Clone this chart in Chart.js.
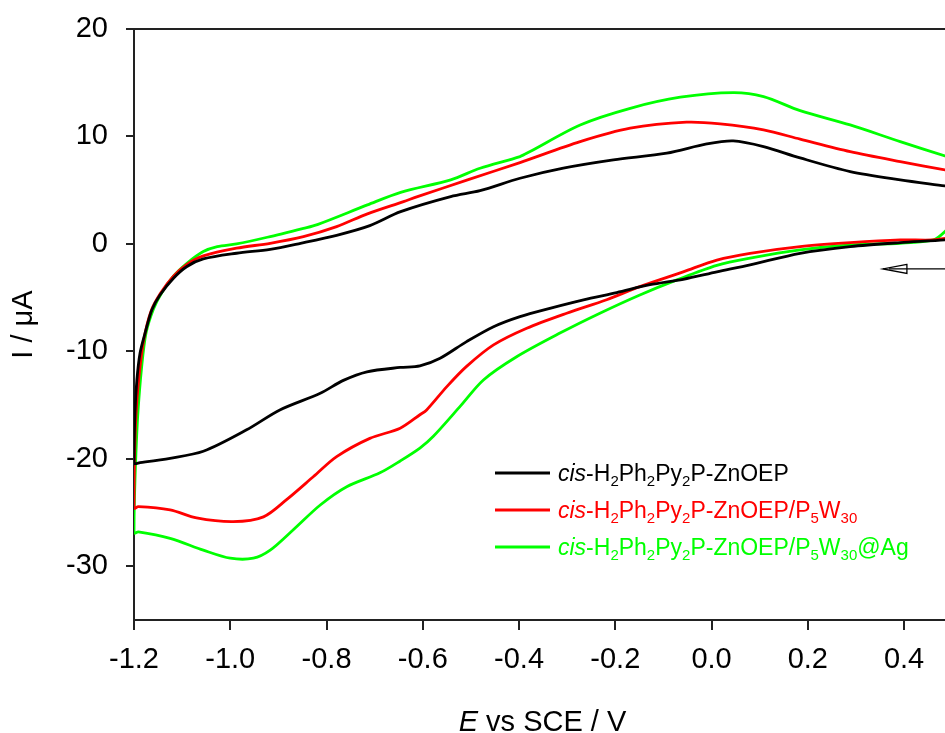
<!DOCTYPE html>
<html><head><meta charset="utf-8">
<script src="https://cdn.jsdelivr.net/npm/chart.js@4/dist/chart.umd.min.js"></script>
<style>html,body{margin:0;padding:0;background:#fff;}#wrap{width:945px;height:733px;position:relative;overflow:hidden}</style>
</head><body><div id="wrap"><canvas id="c" width="945" height="733"></canvas></div>
<script>
// ---- data ----
const xTicks = [-1.2, -1.0, -0.8, -0.6, -0.4, -0.2, 0.0, 0.2, 0.4];
const yTicks = [-30, -20, -10, 0, 10, 20];

const blackE = [0.50, 0.485, 0.392, 0.288, 0.184, 0.08, 0.011, -0.059, -0.128, -0.197, -0.266, -0.336, -0.398, -0.453, -0.509, -0.564, -0.606, -0.647, -0.716, -0.765, -0.813, -0.897, -0.966, -1.056, -1.125, -1.1875, -1.2,
  -1.198, -1.194, -1.1875, -1.177, -1.163, -1.146, -1.118, -1.09, -1.056, -0.987, -0.917, -0.854, -0.779, -0.71, -0.646, -0.542, -0.481, -0.398, -0.308, -0.204, -0.093, -0.01, 0.045, 0.108, 0.184, 0.288, 0.392, 0.485, 0.50];
const blackI = [0.5, 0.37, 0.12, -0.25, -0.87, -1.95, -2.6, -3.29, -3.8, -4.53, -5.2, -5.99, -6.76, -7.7, -9.09, -10.64, -11.35, -11.5, -11.9, -12.7, -13.9, -15.45, -17.3, -19.3, -19.95, -20.35, -20.4,
  -15.76, -12.66, -10.17, -8.31, -6.14, -4.75, -3.19, -2.1, -1.4, -0.87, -0.5, 0.06, 0.8, 1.7, 3.0, 4.4, 4.95, 6.11, 7.05, 7.82, 8.44, 9.3, 9.59, 9.06, 8.0, 6.73, 5.96, 5.4, 5.3];

const redE = [0.50, 0.46, 0.392, 0.288, 0.184, 0.08, 0.011, -0.059, -0.149, -0.218, -0.301, -0.384, -0.453, -0.509, -0.55, -0.592, -0.606, -0.647, -0.71, -0.779, -0.827, -0.883, -0.931, -0.994, -1.07, -1.125, -1.191, -1.2,
  -1.199, -1.196, -1.19, -1.18, -1.165, -1.145, -1.118, -1.09, -1.056, -0.987, -0.917, -0.848, -0.779, -0.715, -0.64, -0.611, -0.507, -0.398, -0.273, -0.169, -0.052, 0.018, 0.108, 0.184, 0.288, 0.392, 0.485, 0.50];
const redI = [0.6, 0.37, 0.37, 0.12, -0.25, -0.87, -1.5, -2.6, -3.97, -5.2, -6.45, -7.85, -9.4, -11.4, -13.28, -15.45, -15.9, -17.15, -18.1, -19.8, -21.65, -23.8, -25.4, -25.85, -25.5, -24.75, -24.45, -24.6,
  -20, -16, -12.5, -9, -6.3, -4.6, -3.0, -1.9, -1.12, -0.4, 0.06, 0.68, 1.61, 2.8, 3.94, 4.4, 5.96, 7.57, 9.52, 10.77, 11.33, 11.17, 10.61, 9.75, 8.59, 7.66, 6.89, 6.8];

const greenE = [0.50, 0.485, 0.461, 0.392, 0.288, 0.184, 0.08, 0.011, -0.072, -0.149, -0.232, -0.315, -0.405, -0.474, -0.522, -0.578, -0.606, -0.647, -0.689, -0.758, -0.813, -0.869, -0.917, -0.952, -1.0, -1.056, -1.125, -1.191, -1.2,
  -1.199, -1.196, -1.192, -1.184, -1.175, -1.16, -1.143, -1.118, -1.09, -1.056, -1.027, -0.987, -0.923, -0.848, -0.819, -0.715, -0.646, -0.542, -0.481, -0.398, -0.377, -0.273, -0.169, -0.065, 0.045, 0.108, 0.184, 0.288, 0.392, 0.485, 0.50];
const greenI = [2.0, 1.15, 0.37, 0.06, -0.09, -0.56, -1.33, -2.0, -3.35, -4.75, -6.45, -8.3, -10.5, -12.66, -15.1, -17.9, -19.0, -20.2, -21.3, -22.6, -24.3, -26.6, -28.5, -29.25, -29.25, -28.5, -27.4, -26.8, -26.9,
  -23.5, -19.5, -15.8, -11.4, -8.3, -6.1, -4.6, -3.0, -1.8, -0.71, -0.25, 0.0, 0.62, 1.45, 1.8, 3.63, 4.8, 5.96, 7.04, 8.13, 8.6, 11.07, 12.62, 13.65, 14.08, 13.71, 12.4, 11.07, 9.52, 8.19, 8.0];

// scan-direction arrow (potential range, current level)
const arrowE = [0.356, 0.50];
const arrowI = -2.33;

// legend labels: [text, style] with i = italic, s = subscript
const legendLabels = [
  [['cis','i'],['-H'],['2','s'],['Ph'],['2','s'],['Py'],['2','s'],['P-ZnOEP']],
  [['cis','i'],['-H'],['2','s'],['Ph'],['2','s'],['Py'],['2','s'],['P-ZnOEP/P'],['5','s'],['W'],['30','s']],
  [['cis','i'],['-H'],['2','s'],['Ph'],['2','s'],['Py'],['2','s'],['P-ZnOEP/P'],['5','s'],['W'],['30','s'],['@Ag']]
];
const xTitle = [['E','i'],[' vs SCE / V']];
const yTitle = [['I / \u03bcA']];

// ---- build ----
const FONT = '"Liberation Sans", Arial, sans-serif';
const colors = ['#000000', '#ff0000', '#00ff00'];
function pts(E, I) { return E.map((e, k) => ({x: e, y: I[k]})); }
const series = [pts(blackE, blackI), pts(redE, redI), pts(greenE, greenI)];

function richWidth(ctx, segs, size, subSize) {
  let w = 0;
  for (const s of segs) {
    const sub = s[1] === 's';
    ctx.font = (s[1] === 'i' ? 'italic ' : '') + (sub ? subSize : size) + 'px ' + FONT;
    w += ctx.measureText(s[0]).width;
  }
  return w;
}
function drawRich(ctx, x, y, segs, color, size, subSize, subDy) {
  ctx.fillStyle = color;
  ctx.textBaseline = 'alphabetic';
  ctx.textAlign = 'left';
  for (const s of segs) {
    const sub = s[1] === 's';
    ctx.font = (s[1] === 'i' ? 'italic ' : '') + (sub ? subSize : size) + 'px ' + FONT;
    ctx.fillText(s[0], x, y + (sub ? subDy : 0));
    x += ctx.measureText(s[0]).width;
  }
}

const extras = {
  id: 'extras',
  afterDraw(chart) {
    const ctx = chart.ctx, a = chart.chartArea;
    const xs = chart.scales.x, ys = chart.scales.y;
    ctx.save();
    // top frame line
    ctx.strokeStyle = '#222'; ctx.lineWidth = 2;
    ctx.beginPath(); ctx.moveTo(a.left, a.top); ctx.lineTo(chart.width, a.top); ctx.stroke();
    // arrow
    const ax0 = xs.getPixelForValue(arrowE[0]), ax1 = xs.getPixelForValue(arrowE[1]);
    const ay = ys.getPixelForValue(arrowI);
    ctx.strokeStyle = '#000'; ctx.lineWidth = 1.3;
    ctx.beginPath();
    ctx.moveTo(ax0 + 24, ay - 4.5); ctx.lineTo(ax0, ay); ctx.lineTo(ax0 + 24, ay + 4.5); ctx.closePath();
    ctx.fillStyle = '#fff'; ctx.fill(); ctx.stroke();
    ctx.beginPath(); ctx.moveTo(ax0 + 6, ay); ctx.lineTo(ax1, ay); ctx.stroke();
    // legend
    const ly = [473, 510, 547];
    for (let k = 0; k < 3; k++) {
      ctx.strokeStyle = colors[k]; ctx.lineWidth = 3;
      ctx.beginPath(); ctx.moveTo(495, ly[k]); ctx.lineTo(550, ly[k]); ctx.stroke();
      drawRich(ctx, 558, ly[k] + 8, legendLabels[k], colors[k], 23, 15, 5);
    }
    // x title
    const cx = (a.left + a.right) / 2;
    const wX = richWidth(ctx, xTitle, 29, 18);
    drawRich(ctx, cx - wX / 2 + 3, 731, xTitle, '#000', 29, 18, 0);
    // y title
    ctx.translate(32, (a.top + a.bottom) / 2);
    ctx.rotate(-Math.PI / 2);
    const wY = richWidth(ctx, yTitle, 29, 18);
    drawRich(ctx, -wY / 2, 0, yTitle, '#000', 29, 18, 0);
    ctx.restore();
  }
};

new Chart(document.getElementById('c'), {
  type: 'scatter',
  data: {
    datasets: series.map((d, k) => ({
      data: d, showLine: true, borderColor: colors[k], backgroundColor: colors[k],
      borderWidth: 2.8, pointRadius: 0, tension: 0.3, fill: false
    }))
  },
  options: {
    responsive: false, animation: false, devicePixelRatio: 1,
    layout: { padding: { top: 29, right: 0, bottom: 0, left: 0 } },
    plugins: { legend: { display: false }, tooltip: { enabled: false }, title: { display: false } },
    scales: {
      x: {
        type: 'linear', min: -1.2, max: 0.485,
        afterBuildTicks: s => { s.ticks = xTicks.map(v => ({ value: v })); },
        afterFit: s => { s.height = 113; },
        ticks: { font: { family: FONT, size: 29 }, color: '#000', padding: 13, maxRotation: 0, autoSkip: false,
                 callback: v => Number(v).toFixed(1) },
        grid: { drawOnChartArea: false, drawTicks: true, tickLength: 10, color: '#222', lineWidth: 2 },
        border: { display: true, color: '#222', width: 2 }
      },
      y: {
        type: 'linear', min: -35, max: 20,
        afterBuildTicks: s => { s.ticks = yTicks.map(v => ({ value: v })); },
        afterFit: s => { s.width = 134; },
        ticks: { font: { family: FONT, size: 29, lineHeight: 0.5 }, color: '#000', padding: 18, autoSkip: false,
                 callback: v => String(v) },
        grid: { drawOnChartArea: false, drawTicks: true, tickLength: 8, color: '#222', lineWidth: 2 },
        border: { display: true, color: '#222', width: 2 }
      }
    }
  },
  plugins: [extras]
});
</script>
</body></html>
